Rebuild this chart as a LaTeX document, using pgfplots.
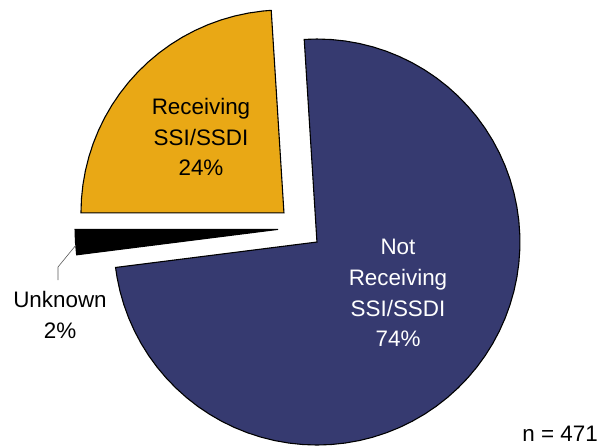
\documentclass[border=0pt]{standalone}
\usepackage{pgfplots}
\pgfplotsset{compat=1.18}
\usepackage{fontspec}
\setmainfont{Liberation Sans}
\definecolor{pieblue}{RGB}{54,58,112}
\definecolor{pieorange}{RGB}{233,168,21}
\begin{document}
\begin{tikzpicture}
\begin{axis}[
  scale only axis, width=600bp, height=445bp,
  xmin=-300, xmax=300, ymin=-217, ymax=228,
  hide axis, clip=false,
]
% Receiving SSI/SSDI 24% : 93.6 -> 180 deg
\addplot[data cs=polar, fill=pieorange, draw=black, line width=1.1pt, line join=miter, xshift=-16.04bp, yshift=15.06bp, mark=none]
coordinates {(93.6,0) (93.6,203) (96,203) (100,203) (104,203) (108,203) (112,203) (116,203) (120,203) (124,203) (128,203) (132,203) (136,203) (140,203) (144,203) (148,203) (152,203) (156,203) (160,203) (164,203) (168,203) (172,203) (176,203) (180,203) (180,0)} -- cycle;
% Unknown 2% : 180 -> 187.2 deg
\addplot[data cs=polar, fill=black, draw=black, line width=1.1pt, line join=miter, xshift=-21.96bp, yshift=-1.38bp, mark=none]
coordinates {(180,0) (180,203) (183.6,203) (187.2,203) (187.2,0)} -- cycle;
% Not receiving SSI/SSDI 74% : 187.2 -> 453.6 deg
\addplot[data cs=polar, fill=pieblue, draw=black, line width=1.1pt, line join=miter, xshift=16.95bp, yshift=-14.02bp, mark=none]
coordinates {(187.2,0) (187.2,203) (190,203) (194,203) (198,203) (202,203) (206,203) (210,203) (214,203) (218,203) (222,203) (226,203) (230,203) (234,203) (238,203) (242,203) (246,203) (250,203) (254,203) (258,203) (262,203) (266,203) (270,203) (274,203) (278,203) (282,203) (286,203) (290,203) (294,203) (298,203) (302,203) (306,203) (310,203) (314,203) (318,203) (322,203) (326,203) (330,203) (334,203) (338,203) (342,203) (346,203) (350,203) (354,203) (358,203) (362,203) (366,203) (370,203) (374,203) (378,203) (382,203) (386,203) (390,203) (394,203) (398,203) (402,203) (406,203) (410,203) (414,203) (418,203) (422,203) (426,203) (430,203) (434,203) (438,203) (442,203) (446,203) (450,203) (453.6,203) (453.6,0)} -- cycle;
% leader line for Unknown
\addplot[gray!70!black, line width=0.6pt, mark=none] coordinates {(-224,-17) (-242,-39) (-242,-52)};
\node[align=center, font=\fontsize{22.5}{31}\selectfont] at (axis cs:-99,91) {Receiving\\SSI/SSDI\\24\%};
\node[align=center, text=white, font=\fontsize{22.5}{31}\selectfont] at (axis cs:98,-65) {Not\\Receiving\\SSI/SSDI\\74\%};
\node[align=center, font=\fontsize{22.5}{31}\selectfont] at (axis cs:-240,-87) {Unknown\\2\%};
\node[anchor=base east, inner sep=0pt, font=\fontsize{22.5}{31}\selectfont] at (axis cs:298,-213) {n = 471};
\coordinate (SW) at (axis cs:-300,-217);
\coordinate (NE) at (axis cs:300,228);
\end{axis}
\pgfresetboundingbox
\path (SW) rectangle (NE);
\end{tikzpicture}
\end{document}
